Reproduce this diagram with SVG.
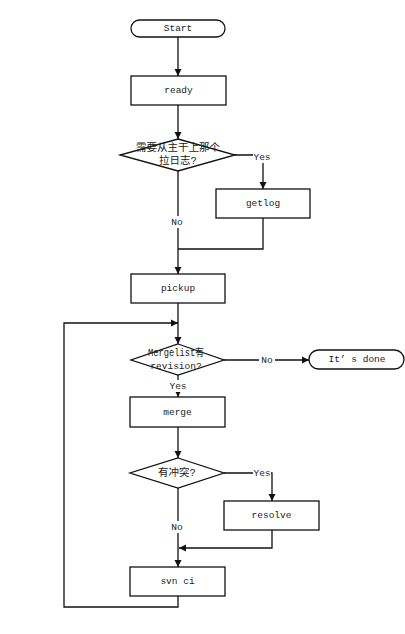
<svg xmlns="http://www.w3.org/2000/svg" width="405" height="634" viewBox="0 0 405 634">
<style>
.s{fill:#fff;stroke:#111;stroke-width:1.3}
.c{fill:none;stroke:#111;stroke-width:1.3}
.t{font-family:"Liberation Mono","Noto Sans CJK SC",monospace;font-size:9.5px;fill:#222;text-anchor:middle;dominant-baseline:central}
.z{font-family:"Liberation Mono","Noto Sans CJK SC",monospace;font-size:10.5px;fill:#222;text-anchor:middle;dominant-baseline:central}
.lb{fill:#fff}
</style>
<defs>
<marker id="a" markerUnits="userSpaceOnUse" markerWidth="8" markerHeight="8" refX="7" refY="4" orient="auto">
<path d="M0,0.5 L7,4 L0,7.5 Z" fill="#111"/>
</marker>
</defs>
<g id="connectors">
<path class="c" d="M178,37 V76" marker-end="url(#a)"/>
<path class="c" d="M178,105 V139" marker-end="url(#a)"/>
<path class="c" d="M235,155 H263 V189" marker-end="url(#a)"/>
<path class="c" d="M178,171 V274" marker-end="url(#a)"/>
<path class="c" d="M263,218 V249 H178"/>
<path class="c" d="M178,303 V344" marker-end="url(#a)"/>
<path class="c" d="M224,360 H309" marker-end="url(#a)"/>
<path class="c" d="M178,375 V397" marker-end="url(#a)"/>
<path class="c" d="M178,427 V458" marker-end="url(#a)"/>
<path class="c" d="M224,473 H272 V501" marker-end="url(#a)"/>
<path class="c" d="M178,488 V567" marker-end="url(#a)"/>
<path class="c" d="M272,530 V548 H179" marker-end="url(#a)"/>
<path class="c" d="M178,596 V607 H64 V323 H178" marker-end="url(#a)"/>
<rect class="lb" x="253" y="151" width="18" height="12"/>
<text class="t" x="262" y="157">Yes</text>
<rect class="lb" x="170" y="216" width="15" height="12"/>
<text class="t" x="177" y="222">No</text>
<rect class="lb" x="259" y="354" width="16" height="12"/>
<text class="t" x="267" y="360">No</text>
<rect class="lb" x="169" y="380" width="18" height="12"/>
<text class="t" x="178" y="386">Yes</text>
<rect class="lb" x="253" y="467" width="18" height="12"/>
<text class="t" x="262" y="473">Yes</text>
<rect class="lb" x="170" y="521" width="15" height="12"/>
<text class="t" x="177" y="527">No</text>
</g>
<g id="start">
<rect class="s" x="131" y="20" width="94" height="17" rx="8.5"/>
<text class="t" x="178" y="28.5">Start</text>
</g>
<g id="ready">
<rect class="s" x="131" y="76" width="95" height="29"/>
<text class="t" x="178.5" y="90.5">ready</text>
</g>
<g id="decision1">
<polygon class="s" points="178,139 235,155 178,171 120,155"/>
<text class="z" x="178" y="148">需要从主干上那个</text>
<text class="z" x="178" y="161">拉日志?</text>
</g>
<g id="getlog">
<rect class="s" x="216" y="189" width="94" height="29"/>
<text class="t" x="263" y="203.5">getlog</text>
</g>
<g id="pickup">
<rect class="s" x="131" y="274" width="94" height="29"/>
<text class="t" x="178" y="288.5">pickup</text>
</g>
<g id="decision2">
<polygon class="s" points="178,344 224,360 178,375 131,360"/>
<text class="z" x="176" y="353" textLength="56" lengthAdjust="spacingAndGlyphs">Mergelist有</text>
<text class="t" x="176" y="366.5">revision?</text>
</g>
<g id="done">
<rect class="s" x="309" y="350" width="95" height="19" rx="9.5"/>
<text class="t" x="357" y="359.5">It’ s done</text>
</g>
<g id="merge">
<rect class="s" x="130" y="397" width="95" height="30"/>
<text class="t" x="177.5" y="412">merge</text>
</g>
<g id="decision3">
<polygon class="s" points="178,458 224,473 178,488 130,473"/>
<text class="z" x="177" y="473">有冲突?</text>
</g>
<g id="resolve">
<rect class="s" x="224" y="501" width="95" height="29"/>
<text class="t" x="271.5" y="515.5">resolve</text>
</g>
<g id="svnci">
<rect class="s" x="130" y="567" width="95" height="29"/>
<text class="t" x="177.5" y="581.5">svn ci</text>
</g>
</svg>
